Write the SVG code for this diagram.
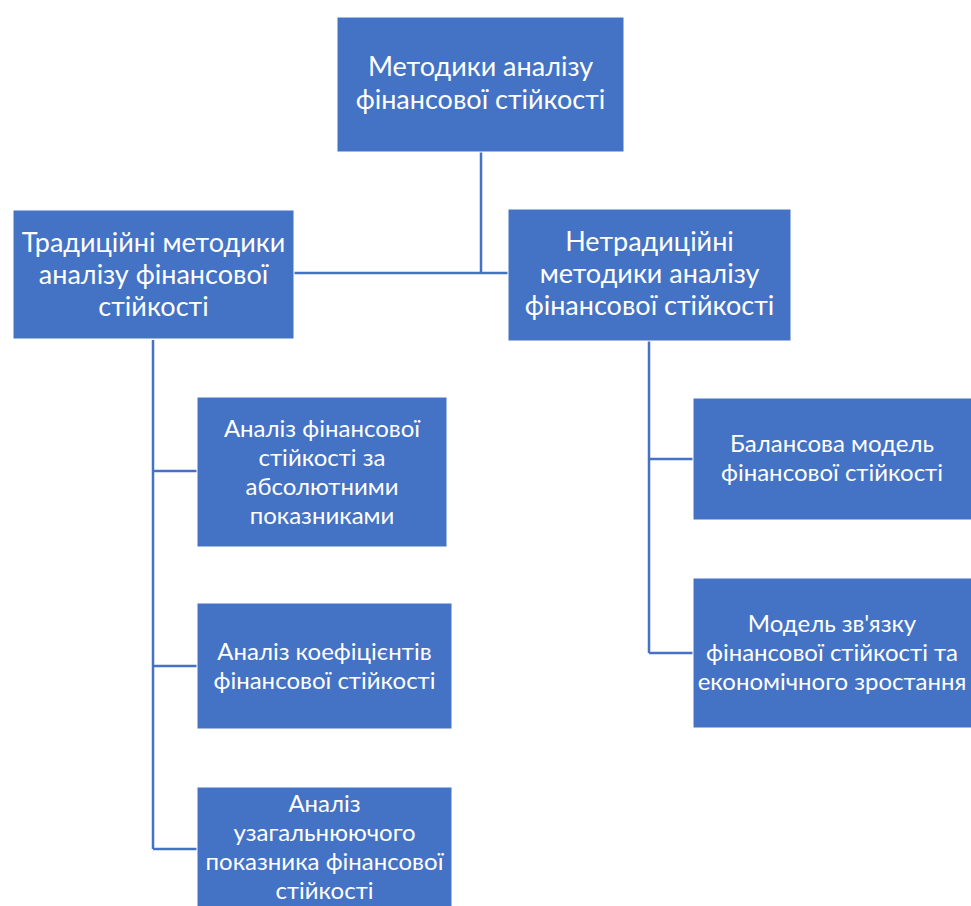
<svg xmlns="http://www.w3.org/2000/svg" width="971" height="906" viewBox="0 0 971 906">
<style>
.box{fill:#4472C4;stroke:#ffffff;stroke-width:1}
.t{fill:#ffffff;font-family:Lato,"Noto Sans","Liberation Sans",sans-serif;text-anchor:middle}
.l{font-size:27px}
.s{font-size:24px}
.c{fill:none;stroke:#4472C4;stroke-width:2.5}
</style>
<rect width="971" height="906" fill="#ffffff"/>
<g id="connectors">
<path class="c" d="M481 152 V273 M294 273 H508"/>
<path class="c" d="M153 340 V849 M153 471 H197 M153 666 H197 M153 849 H197"/>
<path class="c" d="M649 341 V653 M649 459 H693 M649 653 H693"/>
</g>
<g id="root">
<rect class="box" x="337" y="17" width="287" height="135"/>
<text class="t l" x="480.5" y="76">Методики аналізу</text>
<text class="t l" x="480.5" y="109">фінансової стійкості</text>
</g>
<g id="traditional">
<rect class="box" x="13" y="210" width="281" height="129"/>
<text class="t l" x="153.5" y="252">Традиційні методики</text>
<text class="t l" x="153.5" y="284">аналізу фінансової</text>
<text class="t l" x="153.5" y="316">стійкості</text>
</g>
<g id="nontraditional">
<rect class="box" x="508" y="209" width="283" height="132"/>
<text class="t l" x="649.5" y="251">Нетрадиційні</text>
<text class="t l" x="649.5" y="283">методики аналізу</text>
<text class="t l" x="649.5" y="315">фінансової стійкості</text>
</g>
<g id="absolute">
<rect class="box" x="197" y="397" width="250" height="150"/>
<text class="t s" x="322" y="437">Аналіз фінансової</text>
<text class="t s" x="322" y="466">стійкості за</text>
<text class="t s" x="322" y="495">абсолютними</text>
<text class="t s" x="322" y="524">показниками</text>
</g>
<g id="coefficients">
<rect class="box" x="197" y="603" width="255" height="126"/>
<text class="t s" x="324.5" y="660">Аналіз коефіцієнтів</text>
<text class="t s" x="324.5" y="689">фінансової стійкості</text>
</g>
<g id="generalizing">
<rect class="box" x="197" y="787" width="255" height="125"/>
<text class="t s" x="324.5" y="812">Аналіз</text>
<text class="t s" x="324.5" y="841">узагальнюючого</text>
<text class="t s" x="324.5" y="870">показника фінансової</text>
<text class="t s" x="324.5" y="899">стійкості</text>
</g>
<g id="balance">
<rect class="box" x="693" y="398" width="284" height="122"/>
<text class="t s" x="832" y="452">Балансова модель</text>
<text class="t s" x="832" y="481">фінансової стійкості</text>
</g>
<g id="growth">
<rect class="box" x="693" y="578" width="284" height="150"/>
<text class="t s" x="832" y="632">Модель зв'язку</text>
<text class="t s" x="832" y="661">фінансової стійкості та</text>
<text class="t s" x="832" y="690">економічного зростання</text>
</g>
</svg>
